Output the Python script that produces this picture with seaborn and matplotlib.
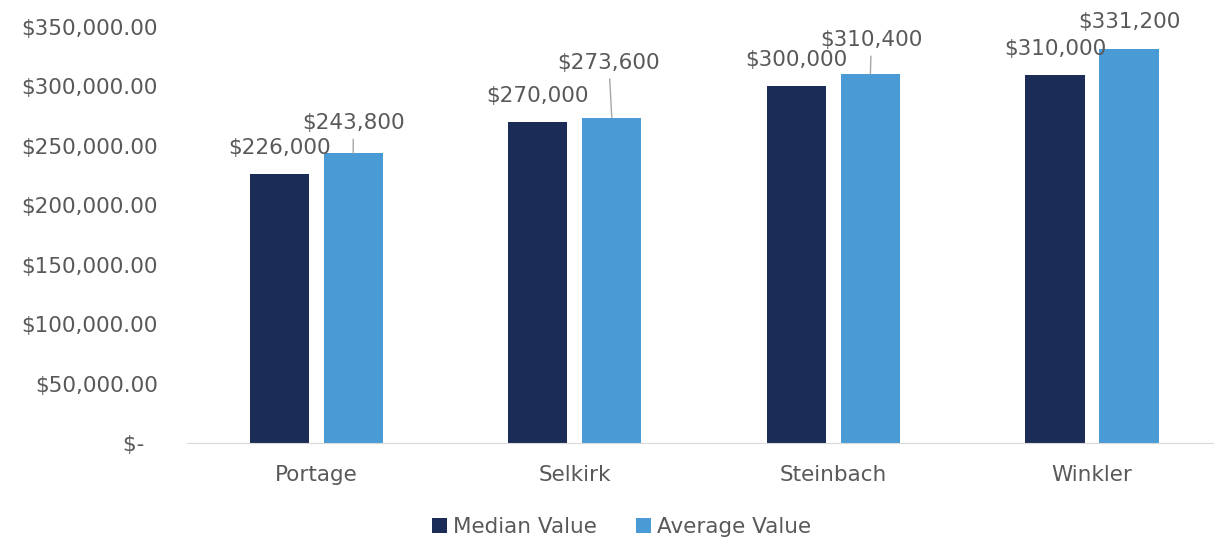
import pandas as pd
import numpy as np
import matplotlib
matplotlib.use('Agg')
import matplotlib.pyplot as plt
from matplotlib.ticker import FuncFormatter
import seaborn as sns

# ── Data ───────────────────────────────────────────────────────
cities = ['Portage', 'Selkirk', 'Steinbach', 'Winkler']
median_value = [226000, 270000, 300000, 310000]
average_value = [243800, 273600, 310400, 331200]
series = ['Median Value', 'Average Value']

# ── Theme ──────────────────────────────────────────────────────
COLORS = ['#1B2D56', '#4A9BD5']
TXT = '#595959'
FS = 15.5
sns.set_style('white')
plt.rcParams['font.family'] = ['DejaVu Sans']

df = pd.DataFrame({'City': cities, 'Median Value': median_value,
                   'Average Value': average_value})
long = df.melt(id_vars='City', var_name='Series', value_name='Value')

fig = plt.figure(figsize=(12.14, 5.4), dpi=100)
ax = fig.add_axes([0.154, 0.1796, 0.852, 0.7704])

sns.barplot(data=long, x='City', y='Value', hue='Series', hue_order=series,
            palette=COLORS, width=0.572, gap=0.2, ax=ax, legend=True,
            saturation=1, linewidth=0)

ax.set_ylim(0, 350000)
ax.set_xlim(-0.5, 3.5)
ax.set_yticks(np.arange(0, 350001, 50000))
ax.yaxis.set_major_formatter(FuncFormatter(
    lambda v, p: '$-  ' if v == 0 else f'${v:,.2f}'))
ax.tick_params(axis='both', length=0, labelsize=FS, labelcolor=TXT)
ax.tick_params(axis='y', pad=21)
ax.tick_params(axis='x', pad=16)
ax.set_xlabel(''); ax.set_ylabel('')
for s in ['top', 'right', 'left']:
    ax.spines[s].set_visible(False)
ax.spines['bottom'].set_color('#D9D9D9')

# ── Data labels ────────────────────────────────────────────────
med_bars, avg_bars = ax.containers[0], ax.containers[1]
for bar, v in zip(med_bars, median_value):
    ax.annotate(f'${v:,.0f}', (bar.get_x() + bar.get_width() / 2, v),
                xytext=(0, 26), textcoords='offset pixels',
                ha='center', va='center', fontsize=FS, color=TXT)

# label offsets (pixels) for average labels, leader line or not
avg_offsets = [(0, 30, True), (-3, 55, True), (1, 34, True), (0, 27, False)]
for bar, v, (dx, dy, lead) in zip(avg_bars, average_value, avg_offsets):
    arrow = dict(arrowstyle='-', color='#A6A6A6', lw=1, shrinkA=2, shrinkB=0) if lead else None
    ax.annotate(f'${v:,.0f}', (bar.get_x() + bar.get_width() / 2, v),
                xytext=(dx, dy), textcoords='offset pixels',
                ha='center', va='center', fontsize=FS, color=TXT,
                arrowprops=arrow)

handles, labels = ax.get_legend_handles_labels()
ax.get_legend().remove()
fig.legend(handles, labels, loc='center', bbox_to_anchor=(0.512, 0.024), ncol=2,
           frameon=False, fontsize=FS, handlelength=0.7, handleheight=0.7,
           handletextpad=0.3, columnspacing=1.8, labelcolor=TXT)

fig.savefig('out.png', dpi=100)
